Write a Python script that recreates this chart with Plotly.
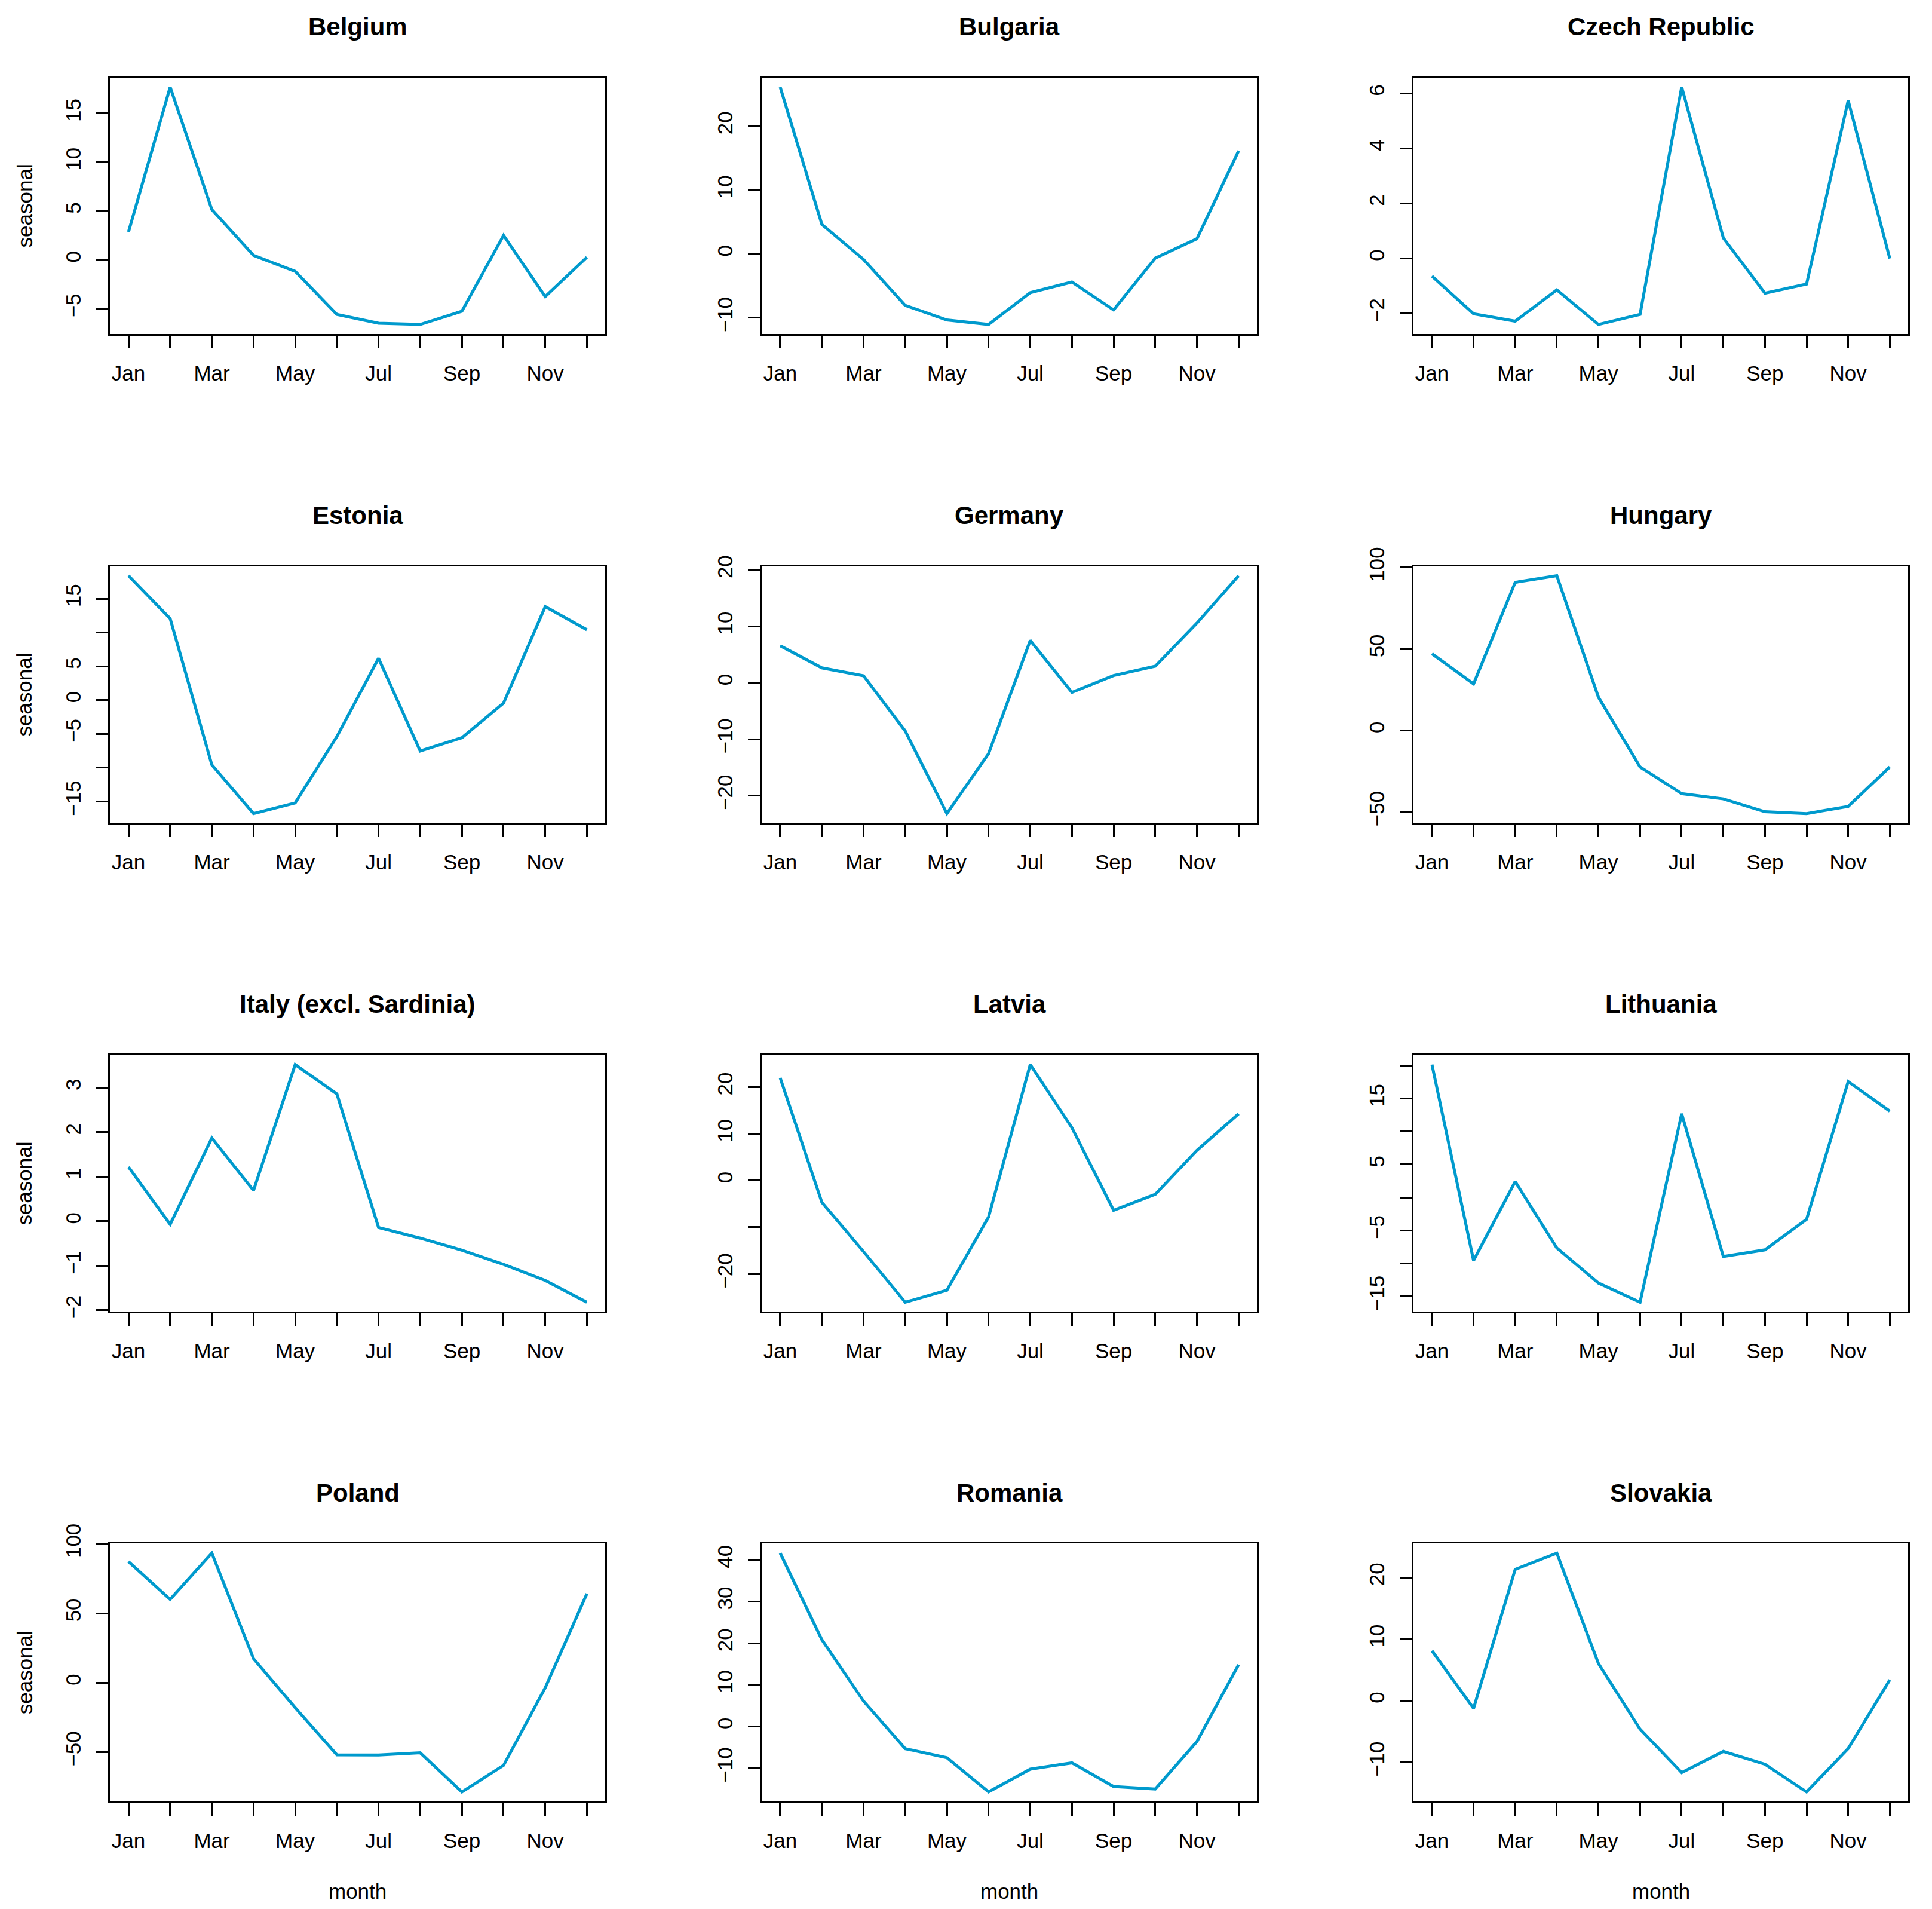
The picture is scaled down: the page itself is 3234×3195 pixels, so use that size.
import plotly.graph_objects as go

PAGE_W, PAGE_H = 3234, 3195
OFF = 8  # page body margin in the browser
W, H = PAGE_W - 2 * OFF, PAGE_H - 2 * OFF  # figure fits the window without scrollbars

months = ["Jan", "Feb", "Mar", "Apr", "May", "Jun", "Jul", "Aug", "Sep", "Oct", "Nov", "Dec"]
month_idx = list(range(1, 13))
month_ticktext = ["Jan", "", "Mar", "", "May", "", "Jul", "", "Sep", "", "Nov", ""]

countries = ["Belgium", "Bulgaria", "Czech Republic",
             "Estonia", "Germany", "Hungary",
             "Italy (excl. Sardinia)", "Latvia", "Lithuania",
             "Poland", "Romania", "Slovakia"]

belgium = [2.86, 17.7, 5.15, 0.46, -1.17, -5.59, -6.49, -6.62, -5.26, 2.51, -3.76, 0.27]
bulgaria = [26.1, 4.61, -0.87, -8.06, -10.34, -11.05, -6.07, -4.40, -8.77, -0.66, 2.37, 16.12]
czech = [-0.65, -2.02, -2.29, -1.15, -2.41, -2.04, 6.23, 0.74, -1.27, -0.94, 5.74, -0.01]
estonia = [18.41, 12.06, -9.58, -16.79, -15.21, -5.4, 6.19, -7.53, -5.56, -0.43, 13.84, 10.41]
germany = [6.56, 2.64, 1.23, -8.55, -23.19, -12.56, 7.51, -1.70, 1.28, 2.93, 10.58, 18.98]
hungary = [47.06, 28.6, 90.85, 94.93, 20.42, -22.39, -38.73, -41.99, -49.84, -50.98, -46.57, -22.39]
italy = [1.22, -0.07, 1.87, 0.69, 3.52, 2.86, -0.14, -0.38, -0.65, -0.97, -1.33, -1.82]
latvia = [21.94, -4.67, -15.21, -26.04, -23.48, -7.81, 24.79, 11.28, -6.38, -2.96, 6.44, 14.25]
lithuania = [20.16, -9.56, 2.42, -7.66, -12.98, -15.89, 12.70, -8.95, -7.94, -3.31, 17.58, 13.10]
poland = [87.24, 60.08, 93.42, 17.28, -18.1, -52.06, -52.2, -50.62, -78.81, -59.67, -3.70, 64.2]
romania = [41.6, 20.83, 6.08, -5.33, -7.51, -15.71, -10.25, -8.74, -14.41, -15.03, -3.62, 14.82]
slovakia = [8.10, -1.25, 21.30, 23.94, 6.02, -4.63, -11.67, -8.24, -10.32, -14.81, -7.78, 3.38]

series = [belgium, bulgaria, czech, estonia, germany, hungary,
          italy, latvia, lithuania, poland, romania, slovakia]

# y-axis ticks and the labels R kept (blank = tick without label)
ytick_vals = [
    [-5, 0, 5, 10, 15],
    [-10, 0, 10, 20],
    [-2, 0, 2, 4, 6],
    [-15, -10, -5, 0, 5, 10, 15],
    [-20, -10, 0, 10, 20],
    [-50, 0, 50, 100],
    [-2, -1, 0, 1, 2, 3],
    [-20, -10, 0, 10, 20],
    [-15, -10, -5, 0, 5, 10, 15, 20],
    [-50, 0, 50, 100],
    [-10, 0, 10, 20, 30, 40],
    [-10, 0, 10, 20],
]
ytick_text = [
    ["−5", "0", "5", "10", "15"],
    ["−10", "0", "10", "20"],
    ["−2", "0", "2", "4", "6"],
    ["−15", "", "−5", "0", "5", "", "15"],
    ["−20", "−10", "0", "10", "20"],
    ["−50", "0", "50", "100"],
    ["−2", "−1", "0", "1", "2", "3"],
    ["−20", "", "0", "10", "20"],
    ["−15", "", "−5", "", "5", "", "15", ""],
    ["−50", "0", "50", "100"],
    ["−10", "0", "10", "20", "30", "40"],
    ["−10", "0", "10", "20"],
]

LINE_COLOR = "#009ACD"
FONT = "Liberation Sans, Arial, sans-serif"

# panel geometry in pixels (page coordinates)
col_left = [184.4, 1275.3, 2366.3]
col_right = [1013.1, 2104.0, 3194.0]
row_top = [129.8, 947.6, 1765.8, 2583.4]
row_bottom = [559.0, 1377.6, 2195.4, 3015.0]


def px(x):
    return (x - OFF) / W


def py(y):
    return 1 - (y - OFF) / H


fig = go.Figure()
annotations = []

for i, (name, vals) in enumerate(zip(countries, series)):
    r, c = divmod(i, 3)
    n = i + 1
    xa = "xaxis" if n == 1 else f"xaxis{n}"
    ya = "yaxis" if n == 1 else f"yaxis{n}"
    xr = "x" if n == 1 else f"x{n}"
    yr = "y" if n == 1 else f"y{n}"

    fig.add_trace(go.Scatter(x=month_idx, y=vals, mode="lines",
                             line=dict(color=LINE_COLOR, width=5),
                             xaxis=xr, yaxis=yr, showlegend=False,
                             hoverinfo="skip"))

    ymin, ymax = min(vals), max(vals)
    pad = 0.04 * (ymax - ymin)
    xpad = 0.04 * (12 - 1)

    xdom = [px(col_left[c]), px(col_right[c])]
    ydom = [py(row_bottom[r]), py(row_top[r])]

    fig.layout[xa] = dict(
        domain=xdom, anchor=yr, range=[1 - xpad, 12 + xpad],
        tickvals=month_idx, ticktext=month_ticktext,
        ticks="outside", ticklen=21, tickwidth=2.5, tickcolor="black",
        showline=True, mirror=True, linecolor="black", linewidth=2.5,
        showgrid=False, zeroline=False, automargin=False,
        tickfont=dict(family=FONT, size=35, color="black"),
        ticklabelstandoff=12,
    )
    fig.layout[ya] = dict(
        domain=ydom, anchor=xr, range=[ymin - pad, ymax + pad],
        tickvals=ytick_vals[i], ticktext=ytick_text[i], tickangle=-90,
        ticks="outside", ticklen=21, tickwidth=2.5, tickcolor="black",
        showline=True, mirror=True, linecolor="black", linewidth=2.5,
        showgrid=False, zeroline=False, automargin=False,
        tickfont=dict(family=FONT, size=35, color="black"),
        ticklabelstandoff=12,
    )

    annotations.append(dict(
        text=f"<b>{name}</b>", xref="paper", yref="paper",
        x=px((col_left[c] + col_right[c]) / 2),
        y=py(row_top[r] - 85),
        xanchor="center", yanchor="middle", showarrow=False,
        font=dict(family=FONT, size=42, color="black"),
    ))

    if c == 0:
        annotations.append(dict(
            text="seasonal", xref="paper", yref="paper",
            x=px(41), y=py((row_top[r] + row_bottom[r]) / 2),
            xanchor="center", yanchor="middle", textangle=-90, showarrow=False,
            font=dict(family=FONT, size=35, color="black"),
        ))
    if r == 3:
        annotations.append(dict(
            text="month", xref="paper", yref="paper",
            x=px((col_left[c] + col_right[c]) / 2), y=0,
            xanchor="center", yanchor="bottom", showarrow=False,
            font=dict(family=FONT, size=35, color="black"),
        ))

fig.update_layout(
    template="none",
    width=W, height=H,
    margin=dict(l=0, r=0, t=0, b=0, autoexpand=False),
    paper_bgcolor="white", plot_bgcolor="white",
    annotations=annotations,
    showlegend=False,
)

fig.write_html("out.html")
